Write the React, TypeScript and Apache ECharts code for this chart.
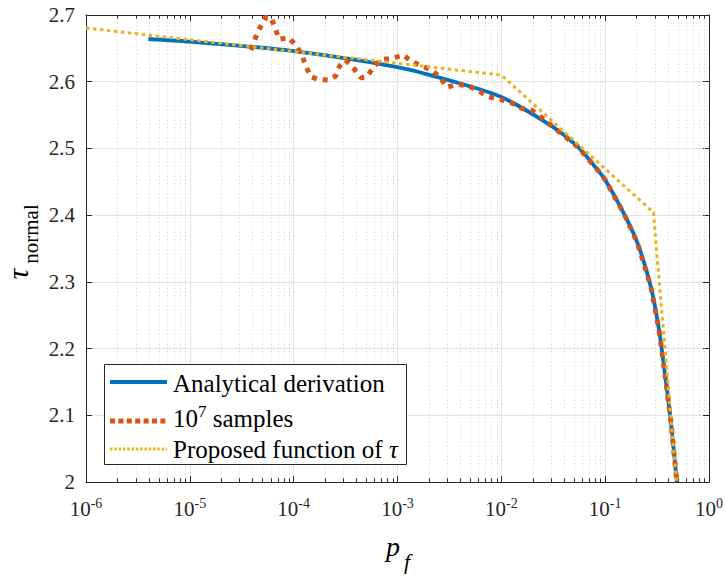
import React, { useEffect, useRef } from 'react';
import * as echarts from 'echarts';

// ---- data ----
const blueP = [3.98e-6, 1e-5, 1e-4, 1e-3, 3.16e-3, 1e-2, 3.16e-2, 0.0544, 0.0847, 0.1, 0.152, 0.205, 0.275, 0.33, 0.383, 0.428, 0.49];
const blueTau = [2.664, 2.660, 2.646, 2.622, 2.602, 2.577, 2.532, 2.5026, 2.4676, 2.453, 2.402, 2.358, 2.293, 2.228, 2.153, 2.0925, 2.0];

const redP = [
  3.88e-5, 4.27e-5, 4.73e-5, 5.4e-5, 6.03e-5, 6.64e-5, 7.24e-5, 8.89e-5, 1.05e-4, 1.2e-4,
  1.31e-4, 1.46e-4, 1.71e-4, 2.15e-4, 2.54e-4, 2.77e-4, 3.16e-4, 3.79e-4, 4.46e-4, 5.09e-4,
  5.9e-4, 7.08e-4, 8.97e-4, 1.14e-3, 1.37e-3, 1.71e-3, 2.14e-3, 2.57e-3, 2.98e-3, 3.79e-3,
  4.81e-3, 6.0e-3, 7.46e-3, 9.68e-3, 1.25e-2, 1.56e-2, 1.95e-2, 2.43e-2, 3.16e-2, 0.0544,
  0.0847, 0.1, 0.152, 0.205, 0.275, 0.33, 0.383, 0.428, 0.49,
];
const redTau = [
  2.6475, 2.665, 2.681, 2.6966, 2.6966, 2.680, 2.6636, 2.666, 2.655, 2.640,
  2.6235, 2.6075, 2.6036, 2.6025, 2.6085, 2.6235, 2.6325, 2.620, 2.606, 2.6075,
  2.6225, 2.6336, 2.635, 2.640, 2.630, 2.6235, 2.6175, 2.6066, 2.5916, 2.596,
  2.5936, 2.5865, 2.5775, 2.5736, 2.5685, 2.560, 2.5576, 2.5466, 2.532, 2.5026,
  2.4676, 2.453, 2.402, 2.358, 2.293, 2.228, 2.153, 2.0925, 2.0,
];

const yellowP = [1e-6, 1e-2, 0.292, 0.318, 0.348, 0.383, 0.412, 0.46, 0.49];
const yellowTau = [2.6805, 2.610, 2.404, 2.333, 2.263, 2.188, 2.128, 2.043, 2.0];

const minorTicks: number[] = [];
for (let d = -6; d <= -1; d++) {
  for (let k = 2; k <= 9; k++) minorTicks.push(k * Math.pow(10, d));
}

const legendNames = ['Analytical derivation', '10^7 samples', 'Proposed function of τ'];

const FONT = "'Liberation Serif', 'Times New Roman', serif";
const AXIS = '#262626';
const BLUE = '#0072BD';
const RED = '#D95319';
const YELLOW = '#EDB120';

export default function App() {
  const ref = useRef<HTMLDivElement>(null);
  useEffect(() => {
    if (!ref.current) return;
    const chart = echarts.init(ref.current, null, { renderer: 'svg' });
    const Y0 = 2.0;
    const Y1 = 2.7;
    const tickLabel = { fontFamily: FONT, color: AXIS };
    const option: any = {
      animation: false,
      backgroundColor: '#fff',
      textStyle: { fontFamily: FONT },
      grid: { left: 86, right: 14, top: 15, bottom: 95, containLabel: false },
      xAxis: [
        {
          type: 'log',
          logBase: 10,
          min: 1e-6,
          max: 1,
          splitNumber: 6,
          axisLine: { show: true, lineStyle: { color: AXIS, width: 1 } },
          axisTick: { show: true, inside: true, length: 6, lineStyle: { color: AXIS } },
          minorTick: { show: false },
          splitLine: { show: true, lineStyle: { color: '#e3e3e3', width: 1 } },
          axisLabel: {
            margin: 14,
            fontFamily: FONT,
            formatter: (v: number) => `{b|10}{s|${Math.round(Math.log10(v))}}`,
            rich: {
              b: { ...tickLabel, fontSize: 21, lineHeight: 26 },
              s: { ...tickLabel, fontSize: 14, lineHeight: 14, verticalAlign: 'top' },
            },
          },
        },
        {
          type: 'log',
          logBase: 10,
          min: 1e-6,
          max: 1,
          splitNumber: 6,
          position: 'top',
          axisLine: { show: true, lineStyle: { color: AXIS, width: 1 } },
          axisTick: { show: true, inside: true, length: 6, lineStyle: { color: AXIS } },
          axisLabel: { show: false },
          splitLine: { show: false },
        },
      ],
      yAxis: [
        {
          type: 'value',
          min: Y0,
          max: Y1,
          interval: 0.1,
          axisLine: { show: true, lineStyle: { color: AXIS, width: 1 } },
          axisTick: { show: true, inside: true, length: 6, lineStyle: { color: AXIS } },
          splitLine: { show: true, lineStyle: { color: '#e3e3e3', width: 1 } },
          axisLabel: { ...tickLabel, fontSize: 21, margin: 11 },
        },
        {
          type: 'value',
          min: Y0,
          max: Y1,
          interval: 0.1,
          position: 'right',
          axisLine: { show: true, lineStyle: { color: AXIS, width: 1 } },
          axisTick: { show: true, inside: true, length: 6, lineStyle: { color: AXIS } },
          splitLine: { show: false },
          axisLabel: { show: false },
        },
      ],
      series: [
        {
          type: 'custom',
          name: 'minor',
          silent: true,
          z: 1,
          data: minorTicks.map((v) => [v, Y0]),
          encode: { x: 0, y: 1 },
          renderItem: (params: any, api: any) => {
            const pb = api.coord([api.value(0), Y0]);
            const pt = api.coord([api.value(0), Y1]);
            const x = Math.round(pb[0]) + 0.5;
            return {
              type: 'group',
              children: [
                {
                  type: 'line',
                  shape: { x1: x, y1: pt[1], x2: x, y2: pb[1] },
                  style: { stroke: '#d2d2d2', lineWidth: 1, lineDash: [1, 2.5] },
                },
                {
                  type: 'line',
                  shape: { x1: x, y1: pb[1], x2: x, y2: pb[1] - 3.5 },
                  style: { stroke: AXIS, lineWidth: 1 },
                },
                {
                  type: 'line',
                  shape: { x1: x, y1: pt[1], x2: x, y2: pt[1] + 3.5 },
                  style: { stroke: AXIS, lineWidth: 1 },
                },
              ],
            };
          },
        },
        {
          type: 'line',
          name: legendNames[0],
          z: 3,
          data: blueP.map((p, i) => [p, blueTau[i]]),
          showSymbol: false,
          smooth: 0.3,
          lineStyle: { color: BLUE, width: 3.8 },
        },
        {
          type: 'line',
          name: legendNames[1],
          z: 4,
          data: redP.map((p, i) => [p, redTau[i]]),
          showSymbol: false,
          lineStyle: { color: RED, width: 5, type: [5, 6], cap: 'butt' },
        },
        {
          type: 'line',
          name: legendNames[2],
          z: 5,
          data: yellowP.map((p, i) => [p, yellowTau[i]]),
          showSymbol: false,
          lineStyle: { color: YELLOW, width: 3, type: [3.5, 3.5], cap: 'butt' },
        },
      ],
      graphic: [
        // y axis title
        {
          type: 'text',
          x: 17,
          y: 274,
          rotation: Math.PI / 2,
          style: { text: 'τ', fontFamily: FONT, fontSize: 30, fontStyle: 'italic', fill: '#000', align: 'center', verticalAlign: 'middle' },
        },
        {
          type: 'text',
          x: 31,
          y: 234,
          rotation: Math.PI / 2,
          style: { text: 'normal', fontFamily: FONT, fontSize: 21, fill: '#000', align: 'center', verticalAlign: 'middle' },
        },
        // x axis title
        {
          type: 'text',
          x: 393,
          y: 546,
          style: { text: 'p', fontFamily: FONT, fontSize: 28, fontStyle: 'italic', fill: '#000', align: 'center', verticalAlign: 'middle' },
        },
        {
          type: 'text',
          x: 407,
          y: 561,
          style: { text: 'f', fontFamily: FONT, fontSize: 22, fontStyle: 'italic', fill: '#000', align: 'center', verticalAlign: 'middle' },
        },
        // legend
        {
          type: 'rect',
          z: 10,
          shape: { x: 104.5, y: 364.5, width: 302, height: 100 },
          style: { fill: '#fff', stroke: '#262626', lineWidth: 1 },
        },
        {
          type: 'line',
          z: 11,
          shape: { x1: 110, y1: 382, x2: 167, y2: 382 },
          style: { stroke: BLUE, lineWidth: 3.8 },
        },
        {
          type: 'line',
          z: 11,
          shape: { x1: 110, y1: 421, x2: 167, y2: 421 },
          style: { stroke: RED, lineWidth: 5, lineDash: [5, 3.4] },
        },
        {
          type: 'line',
          z: 11,
          shape: { x1: 110, y1: 449, x2: 167, y2: 449 },
          style: { stroke: YELLOW, lineWidth: 3, lineDash: [2.5, 1.8] },
        },
        {
          type: 'text',
          z: 11,
          x: 173,
          y: 383,
          style: { text: legendNames[0], fontFamily: FONT, fontSize: 25, fill: '#000', align: 'left', verticalAlign: 'middle' },
        },
        {
          type: 'text',
          z: 11,
          x: 173,
          y: 418,
          style: {
            text: '{b|10}{s|7}{b| samples}',
            fill: '#000',
            align: 'left',
            verticalAlign: 'middle',
            rich: {
              b: { fontFamily: FONT, fontSize: 25, lineHeight: 30, fill: '#000' },
              s: { fontFamily: FONT, fontSize: 17, lineHeight: 17, verticalAlign: 'top', fill: '#000' },
            },
          },
        },
        {
          type: 'text',
          z: 11,
          x: 173,
          y: 449,
          style: {
            text: '{b|Proposed function of }{i|τ}',
            fill: '#000',
            align: 'left',
            verticalAlign: 'middle',
            rich: {
              b: { fontFamily: FONT, fontSize: 25, fill: '#000' },
              i: { fontFamily: FONT, fontSize: 25, fontStyle: 'italic', fill: '#000' },
            },
          },
        },
      ],
    };
    chart.setOption(option);
    return () => chart.dispose();
  }, []);
  return (
    <div
      ref={ref}
      style={{ position: 'fixed', left: 0, top: 0, width: 726, height: 577, background: '#fff' }}
    />
  );
}
